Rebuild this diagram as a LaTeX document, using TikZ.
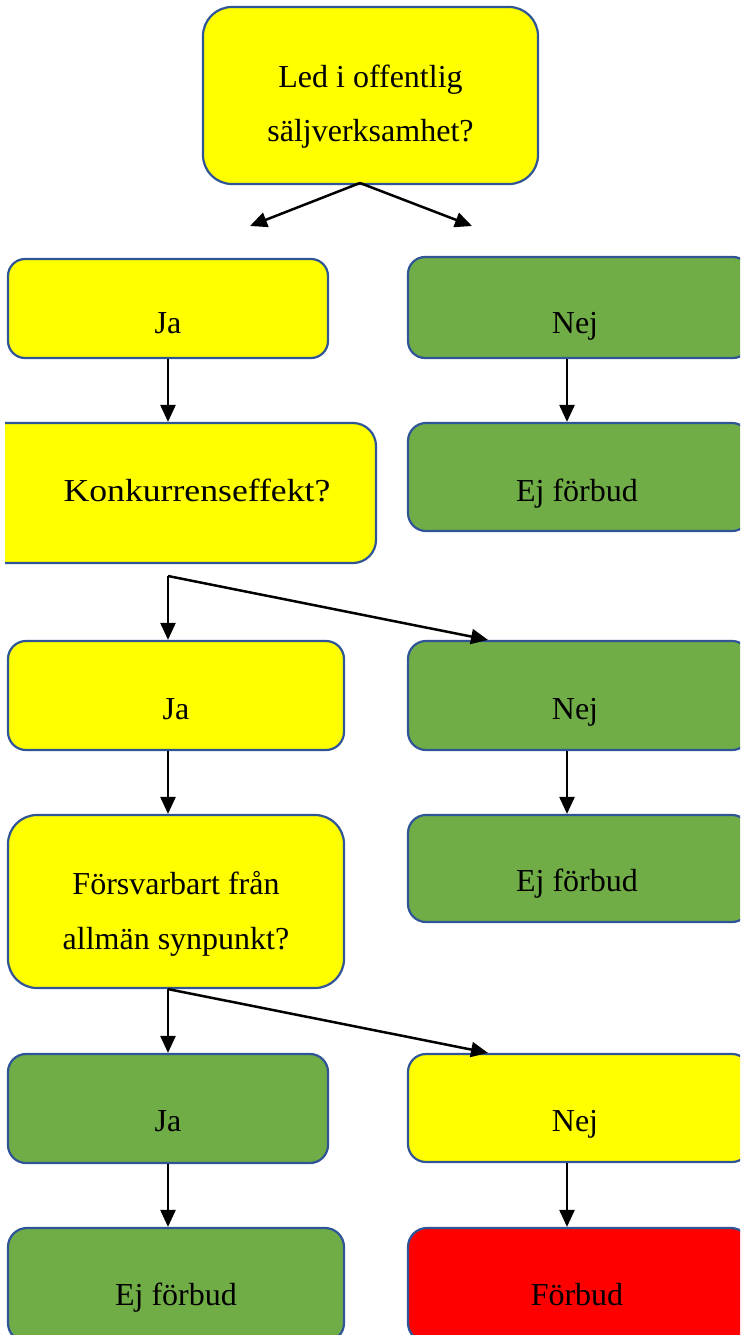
\documentclass[tikz,border=0pt]{standalone}
\usepackage{fontspec}
\setmainfont{Liberation Serif}
\usetikzlibrary{arrows.meta}
\definecolor{yel}{HTML}{FFFF00}
\definecolor{grn}{HTML}{70AD47}
\definecolor{rd}{HTML}{FF0000}
\definecolor{bord}{HTML}{2F5597}
\begin{document}
\begin{tikzpicture}[x=1pt,y=-1pt,
  boxbase/.style={draw=bord, line width=2.2pt, rectangle, inner sep=0pt},
  yelbox/.style={boxbase, fill=yel},
  grnbox/.style={boxbase, fill=grn},
  redbox/.style={boxbase, fill=rd},
  txt/.style={font=\fontsize{32}{40}\selectfont, anchor=base, inner sep=0pt},
  arr/.style={line width=2.5pt, -{Triangle[length=17pt,width=15pt]}}]
\useasboundingbox (0,0) rectangle (740,1335);
\clip (0,0) rectangle (740,1335);

% boxes
\node[yelbox, minimum width=335pt, minimum height=177pt, rounded corners=29pt] (top) at (370.5,95.5) {};
\node[yelbox, minimum width=320pt, minimum height=99pt, rounded corners=17pt] (ja1) at (168,308.5) {};
\node[grnbox, minimum width=342pt, minimum height=101pt, rounded corners=17pt] (nej1) at (579,307.5) {};
\begin{scope}
  \clip (5,0) rectangle (740,1335);
  \node[yelbox, minimum width=416pt, minimum height=140pt, rounded corners=23pt] (konk) at (168,493) {};
\end{scope}
\node[grnbox, minimum width=342pt, minimum height=108pt, rounded corners=18pt] (ejf1) at (579,477) {};
\node[yelbox, minimum width=336pt, minimum height=109pt, rounded corners=18pt] (ja2) at (176,695.5) {};
\node[grnbox, minimum width=342pt, minimum height=109pt, rounded corners=18pt] (nej2) at (579,695.5) {};
\node[yelbox, minimum width=336pt, minimum height=173pt, rounded corners=29pt] (fors) at (176,901.5) {};
\node[grnbox, minimum width=342pt, minimum height=107pt, rounded corners=18pt] (ejf2) at (579,868.5) {};
\node[grnbox, minimum width=320pt, minimum height=109pt, rounded corners=18pt] (ja3) at (168,1108.5) {};
\node[yelbox, minimum width=342pt, minimum height=108pt, rounded corners=18pt] (nej3) at (579,1108) {};
\node[grnbox, minimum width=336pt, minimum height=114pt, rounded corners=19pt] (ejf3) at (176,1285) {};
\node[redbox, minimum width=342pt, minimum height=114pt, rounded corners=19pt] (forb) at (579,1285) {};

% texts
\node[txt] (ttop1) at (370.5,87.3) {Led i offentlig};
\node[txt] (ttop2) at (370.5,141.7) {säljverksamhet?};
\node[txt] (tja1) at (168,333) {Ja};
\node[txt] (tnej1) at (575,333) {Nej};
\node[txt, xscale=1.115] (tkonk) at (197,501.7) {Konkurrenseffekt?};
\node[txt] (tejf1) at (577,501.7) {Ej förbud};
\node[txt] (tja2) at (176,719.3) {Ja};
\node[txt] (tnej2) at (575,719.3) {Nej};
\node[txt] (tfors1) at (176,894.3) {Försvarbart från};
\node[txt] (tfors2) at (176,949.3) {allmän synpunkt?};
\node[txt] (tejf2) at (577,891.7) {Ej förbud};
\node[txt] (tja3) at (168,1131) {Ja};
\node[txt] (tnej3) at (575,1131) {Nej};
\node[txt] (tejf3) at (176,1305) {Ej förbud};
\node[txt] (tforb) at (577,1305) {Förbud};

% connectors
\coordinate (lc) at (168,0);
\coordinate (rc) at (567,0);
\coordinate (t2) at (488,0);
\coordinate (s1) at (360,183);
\coordinate (e1l) at (250,226);
\coordinate (e1r) at (472,226);
\coordinate (s2) at (168,576);

\draw[arr] (s1) -- (e1l);
\draw[arr] (s1) -- (e1r);
\draw[arr] (ja1.south -| lc) -- (konk.north -| lc);
\draw[arr] (nej1.south -| rc) -- (ejf1.north -| rc);
\draw[arr] (s2) -- (ja2.north -| lc);
\draw[arr] (s2) -- (nej2.north -| t2);
\draw[arr] (ja2.south -| lc) -- (fors.north -| lc);
\draw[arr] (nej2.south -| rc) -- (ejf2.north -| rc);
\draw[arr] (fors.south -| lc) -- (ja3.north -| lc);
\draw[arr] (fors.south -| lc) -- (nej3.north -| t2);
\draw[arr] (ja3.south -| lc) -- (ejf3.north -| lc);
\draw[arr] (nej3.south -| rc) -- (forb.north -| rc);
\end{tikzpicture}
\end{document}
